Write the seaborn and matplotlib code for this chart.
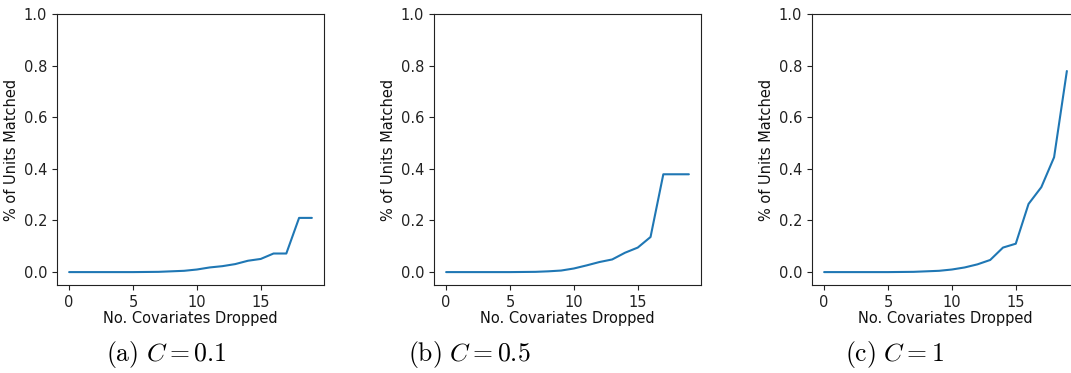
import numpy as np
import pandas as pd
import matplotlib
matplotlib.use("Agg")
import matplotlib.pyplot as plt
import seaborn as sns

covariates_dropped = list(range(20))
matched_c01 = [0.0, 0.0, 0.0, 0.0, 0.0, 0.0, 0.0005, 0.001, 0.003, 0.005,
               0.010, 0.018, 0.023, 0.031, 0.044, 0.051, 0.072, 0.072, 0.21, 0.21]
matched_c05 = [0.0, 0.0, 0.0, 0.0, 0.0, 0.0, 0.0005, 0.001, 0.003, 0.006,
               0.014, 0.026, 0.039, 0.049, 0.075, 0.095, 0.136, 0.379, 0.379, 0.379]
matched_c1 = [0.0, 0.0, 0.0, 0.0, 0.0, 0.0, 0.0005, 0.001, 0.003, 0.005,
              0.010, 0.018, 0.030, 0.047, 0.095, 0.110, 0.264, 0.329, 0.445, 0.779]
captions = [r"$\mathrm{(a)}\ C = 0.1$", r"$\mathrm{(b)}\ C = 0.5$", r"$\mathrm{(c)}\ C = 1$"]

sns.set_theme(style="ticks")
plt.rcParams.update({
    "font.family": ["DejaVu Sans"],
    "font.size": 10.5,
    "axes.labelsize": 10.5,
    "xtick.labelsize": 10.5,
    "ytick.labelsize": 10.5,
    "axes.edgecolor": "#222222",
    "axes.linewidth": 0.8,
    "xtick.color": "#222222",
    "ytick.color": "#222222",
    "xtick.major.size": 3.5,
    "ytick.major.size": 3.5,
    "xtick.major.width": 0.8,
    "ytick.major.width": 0.8,
    "xtick.major.pad": 3.5,
    "ytick.major.pad": 3.5,
    "text.color": "#111111",
    "axes.labelcolor": "#111111",
    "mathtext.fontset": "cm",
})

fig = plt.figure(figsize=(10.71, 3.73), dpi=100)
W, H = 1071, 373
lefts = [57, 434, 812]
caption_x = [166, 469, 895]
series = [matched_c01, matched_c05, matched_c1]

for left, vals, cap, cx in zip(lefts, series, captions, caption_x):
    ax = fig.add_axes([left / W, (H - 285) / H, 267 / W, 271 / H])
    df = pd.DataFrame({"x": covariates_dropped, "y": vals})
    sns.lineplot(data=df, x="x", y="y", ax=ax, color="#1f77b4", linewidth=1.5)
    ax.set_ylim(-0.05, 1.0)
    ax.set_xlim(-0.95, 19.95)
    ax.set_xticks([0, 5, 10, 15])
    ax.set_yticks([0.0, 0.2, 0.4, 0.6, 0.8, 1.0])
    ax.set_yticklabels(["0.0", "0.2", "0.4", "0.6", "0.8", "1.0"])
    ax.set_xlabel("No. Covariates Dropped", labelpad=1)
    ax.set_ylabel("% of Units Matched", labelpad=3.5)
    for s in ax.spines.values():
        s.set_visible(True)
    fig.text(cx / W, 1 - 355 / H, cap, ha="center", va="center", fontsize=18.5,
             color="black")

fig.savefig("out.png", dpi=100)
